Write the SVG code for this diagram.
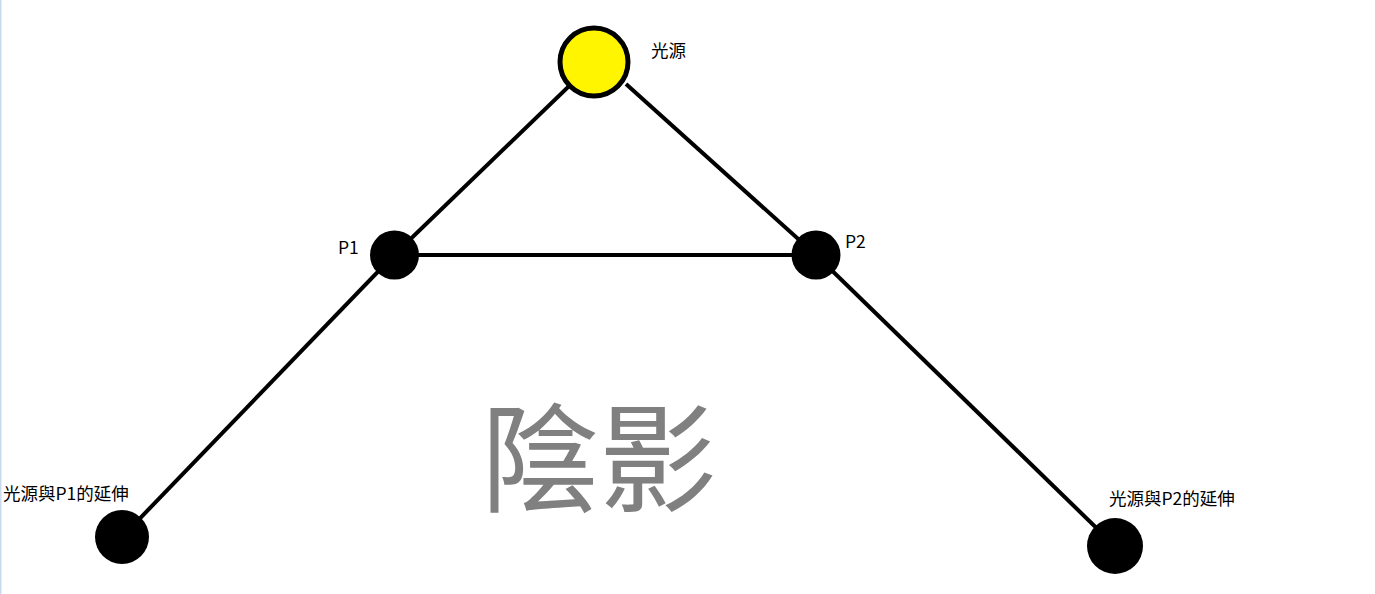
<svg xmlns="http://www.w3.org/2000/svg" width="1375" height="594" viewBox="0 0 1375 594">
<style>
.ln{stroke:#000;stroke-width:4;fill:none}
.pt{fill:#000}
.lbl{font-family:"Noto Sans CJK TC","Noto Sans CJK SC",sans-serif;font-size:17.5px;fill:#000}
.big{font-family:"Noto Sans CJK TC","Noto Sans CJK SC",sans-serif;font-size:118px;fill:#808080}
</style>
<rect x="0" y="0" width="1375" height="594" fill="#fff"/>
<rect x="0" y="0" width="1.5" height="594" fill="#c9d9ee"/>
<g id="connectors">
<line class="ln" x1="594" y1="62" x2="394" y2="255"/>
<line class="ln" x1="626" y1="84" x2="816" y2="255"/>
<line class="ln" x1="394" y1="255" x2="816" y2="255"/>
<line class="ln" x1="394" y1="255" x2="122" y2="537"/>
<line class="ln" x1="816" y1="255" x2="1115" y2="546"/>
</g>
<g id="light">
<circle cx="594" cy="62" r="34" fill="#fff500" stroke="#000" stroke-width="5"/>
<text class="lbl" x="651" y="57">光源</text>
</g>
<g id="p1">
<circle class="pt" cx="394.5" cy="255" r="24.5"/>
<text class="lbl" x="338" y="254">P1</text>
</g>
<g id="p2">
<circle class="pt" cx="816" cy="255" r="24.5"/>
<text class="lbl" x="845" y="248">P2</text>
</g>
<g id="ext1">
<circle class="pt" cx="122" cy="537" r="27"/>
<text class="lbl" x="3" y="500">光源與P1的延伸</text>
</g>
<g id="ext2">
<circle class="pt" cx="1115" cy="546" r="28"/>
<text class="lbl" x="1109" y="505">光源與P2的延伸</text>
</g>
<g id="shadow">
<text class="big" x="481" y="503">陰影</text>
</g>
</svg>
